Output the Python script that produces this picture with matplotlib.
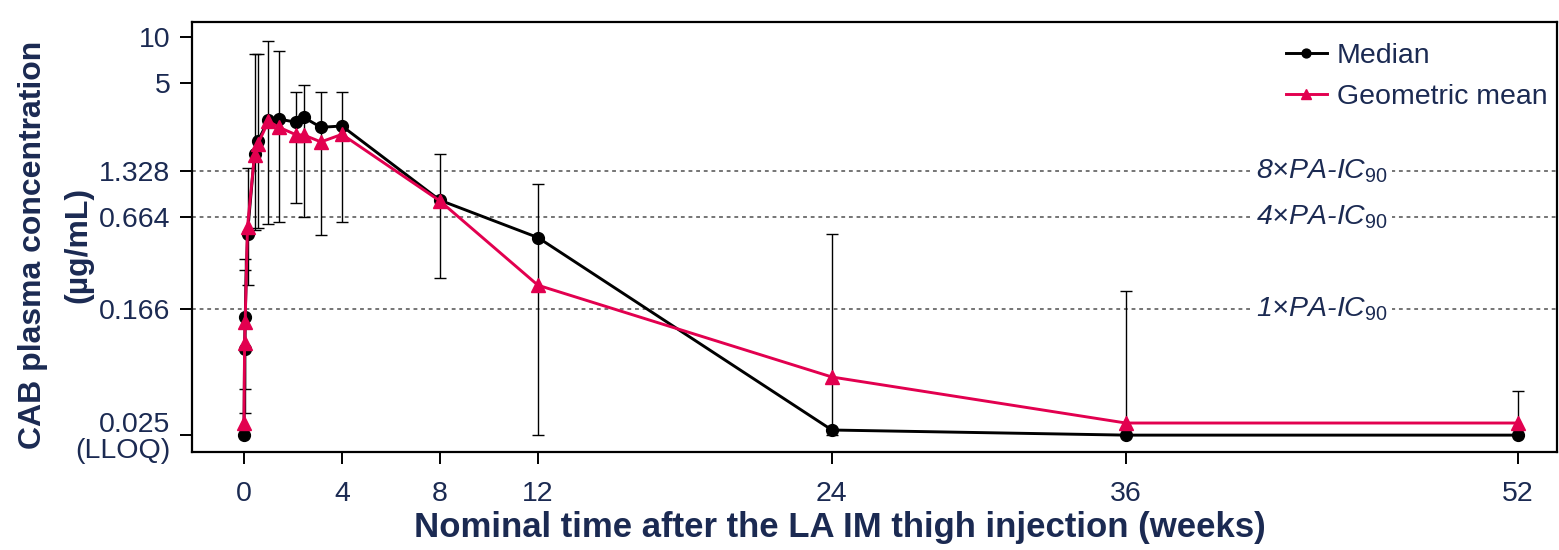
import numpy as np
import matplotlib
matplotlib.use("Agg")
import matplotlib.pyplot as plt
from matplotlib.ticker import FixedLocator, NullLocator

plt.rcParams['font.family'] = ['Liberation Sans', 'DejaVu Sans']
plt.rcParams['mathtext.fontset'] = 'custom'
plt.rcParams['mathtext.rm'] = 'Liberation Sans'
plt.rcParams['mathtext.it'] = 'Liberation Sans:italic'

NAVY = '#1b2a52'
CRIMSON = '#e2004f'

# nominal times (weeks)
weeks = [0, 0.024, 0.048, 0.143, 0.429, 0.571, 1, 1.43, 2.14, 2.43, 3.14, 4,
         8, 12, 24, 36, 52]
median = [0.025, 0.092, 0.148, 0.52, 1.72, 2.10, 2.88, 2.92, 2.78, 3.0, 2.58,
          2.63, 0.86, 0.49, 0.027, 0.025, 0.025]
geo_mean = [0.030, 0.100, 0.138, 0.577, 1.70, 2.02, 2.82, 2.58, 2.30, 2.30,
            2.07, 2.32, 0.85, 0.239, 0.060, 0.030, 0.030]
# error bar limits around the median
err_low = [0.025, 0.035, 0.050, 0.239, 0.553, 0.57, 0.60, 0.616, 0.824, 0.664,
           0.508, 0.616, 0.265, 0.025, 0.025, 0.025, 0.025]
err_high = [0.025, 0.30, 0.354, 1.40, 7.74, 7.74, 9.5, 8.17, 4.36, 4.85, 4.36,
            4.41, 1.73, 1.09, 0.521, 0.22, 0.0486]

ref_levels = [1.328, 0.664, 0.166]
ref_labels = ['8×PA-IC', '4×PA-IC', '1×PA-IC']

y_ticks = [10, 5, 1.328, 0.664, 0.166, 0.025]
y_ticklabels = ['10', '5', '1.328', '0.664', '0.166', '0.025\n(LLOQ)']
x_ticks = [0, 4, 8, 12, 24, 36, 52]

fig = plt.figure(figsize=(15.59, 5.5), dpi=100)
ax = fig.add_axes([0.1232, 0.178, 0.8755, 0.782])

med = np.array(median)
lo = np.array(err_low)
hi = np.array(err_high)

# reference lines (PA-IC90 multiples)
for lvl, lab in zip(ref_levels, ref_labels):
    ax.axhline(lvl, color='#505050', linestyle=(0, (2.5, 2.5)), linewidth=1.1, zorder=1)
    ax.text(44.0, lvl, lab + r'$_{\mathit{90}}$', style='italic', color=NAVY,
            fontsize=20.5, ha='center', va='center', zorder=2,
            bbox=dict(facecolor='white', edgecolor='none', pad=3))

ax.errorbar(weeks, med, yerr=[med - lo, hi - med], fmt='none', ecolor='black',
            elinewidth=1.0, capsize=4.5, capthick=1.0, zorder=3)

ax.plot(weeks, median, color='black', marker='o', markersize=8.5, linewidth=2.1,
        label='Median', zorder=4)
ax.plot(weeks, geo_mean, color=CRIMSON, marker='^', markersize=10, linewidth=2.1,
        label='Geometric mean', zorder=5)

ax.set_yscale('log')
ax.set_ylim(0.01936, 12.6)
ax.set_xlim(-2.12, 53.6)

ax.yaxis.set_major_locator(FixedLocator(y_ticks))
ax.yaxis.set_minor_locator(NullLocator())
ax.set_yticklabels(y_ticklabels)
ax.set_xticks(x_ticks)

ax.tick_params(axis='both', labelsize=20.5, labelcolor=NAVY, length=8.5,
               width=1.4, color='black')
ax.tick_params(axis='y', pad=7)
ax.tick_params(axis='x', pad=12)
for lbl in ax.get_yticklabels():
    lbl.set_linespacing(1.0)
    lbl.set_multialignment('right')
for sp in ax.spines.values():
    sp.set_linewidth(1.6)

ax.set_xlabel('Nominal time after the LA IM thigh injection (weeks)',
              fontsize=25, fontweight='bold', color=NAVY)
ax.xaxis.set_label_coords(0.4747, -0.138)

# y label as two separate lines
ax.text(-0.1165, 0.481, 'CAB plasma concentration', transform=ax.transAxes,
        rotation=90, ha='center', va='center', fontsize=23, fontweight='bold',
        color=NAVY)
ax.text(-0.0832, 0.481, '(µg/mL)', transform=ax.transAxes, rotation=90,
        ha='center', va='center', fontsize=23, fontweight='bold', color=NAVY)

leg = ax.legend(loc='upper right', bbox_to_anchor=(1.0088, 1.0), frameon=False,
                fontsize=20.5, markerscale=0.75, handlelength=1.45,
                handletextpad=0.35, borderaxespad=0.45, borderpad=0.3,
                labelspacing=0.5)
for t in leg.get_texts():
    t.set_color(NAVY)

fig.savefig('out.png', dpi=100)
